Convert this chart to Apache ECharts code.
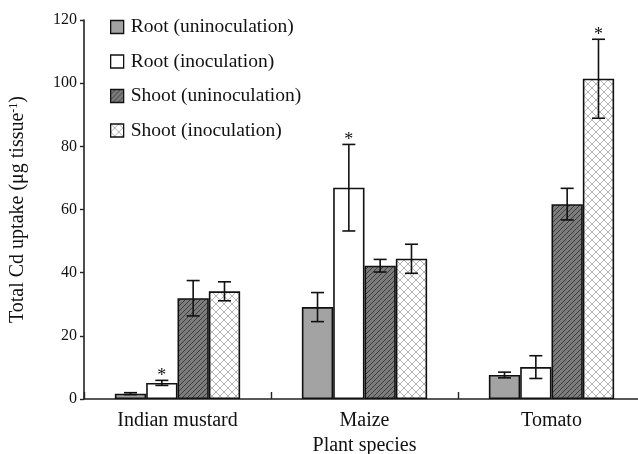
<!DOCTYPE html>
<html>
<head>
<meta charset="utf-8">
<script src="https://cdn.jsdelivr.net/npm/echarts@6/dist/echarts.min.js"></script>
<style>
html,body{margin:0;padding:0;background:#fff;}
#c{width:638px;height:454px;}
</style>
</head>
<body>
<div id="c"></div>
<script>
const categories = ['Indian mustard', 'Maize', 'Tomato'];
const seriesNames = ['Root (uninoculation)', 'Root (inoculation)', 'Shoot (uninoculation)', 'Shoot (inoculation)'];
const rootUn = [1.7, 29.1, 7.6];
const rootUnErr = [0.3, 4.6, 0.9];
const rootIn = [5.1, 66.9, 10.1];
const rootInErr = [0.8, 13.7, 3.6];
const shootUn = [31.9, 42.2, 61.7];
const shootUnErr = [5.6, 2.0, 5.0];
const shootIn = [34.1, 44.4, 101.4];
const shootInErr = [3.0, 4.6, 12.5];
const rootUnSig = [0, 0, 0];
const rootInSig = [1, 1, 0];
const shootUnSig = [0, 0, 0];
const shootInSig = [0, 0, 1];
const yTicks = [0, 20, 40, 60, 80, 100, 120];

const FONT = '"Liberation Serif", "DejaVu Serif", serif';

function makePattern(bg, lineColor, spacing, cross, lw) {
  const size = spacing;
  const cv = document.createElement('canvas');
  cv.width = size; cv.height = size;
  const ctx = cv.getContext('2d');
  ctx.fillStyle = bg; ctx.fillRect(0, 0, size, size);
  ctx.strokeStyle = lineColor; ctx.lineWidth = lw;
  ctx.beginPath();
  ctx.moveTo(-1, size + 1); ctx.lineTo(size + 1, -1);
  ctx.moveTo(-size - 1, size + 1); ctx.lineTo(1, -1);
  ctx.moveTo(size - 1, 2 * size + 1); ctx.lineTo(2 * size + 1, size - 1);
  if (cross) {
    ctx.moveTo(-1, -1); ctx.lineTo(size + 1, size + 1);
    ctx.moveTo(-size - 1, -1); ctx.lineTo(1, size + 1);
    ctx.moveTo(size - 1, -1); ctx.lineTo(2 * size + 1, size + 1);
  }
  ctx.stroke();
  return { image: cv, repeat: 'repeat' };
}

const hatch = makePattern('#7c7c7c', '#3c3c3c', 5, false, 1);
const cross = makePattern('#ffffff', '#b4b4b4', 8, true, 1);

const fills = ['#a3a3a3', '#ffffff', hatch, cross];
const values = [rootUn, rootIn, shootUn, shootIn];
const errs = [rootUnErr, rootInErr, shootUnErr, shootInErr];
const sigs = [rootUnSig, rootInSig, shootUnSig, shootInSig];

const GAP = 0.33;

const barSeries = seriesNames.map((n, i) => ({
  name: n,
  type: 'bar',
  data: values[i],
  barGap: '0%',
  barCategoryGap: (GAP * 100) + '%',
  itemStyle: { color: fills[i], borderColor: '#111', borderWidth: 1.6 },
  emphasis: { disabled: true }
}));

const errData = [];
for (let s = 0; s < 4; s++) {
  for (let c = 0; c < categories.length; c++) {
    errData.push([c, s, values[s][c], errs[s][c], sigs[s][c]]);
  }
}

const errSeries = {
  type: 'custom',
  name: 'err',
  z: 10,
  silent: true,
  data: errData,
  encode: { x: 0, y: 2 },
  renderItem: function (params, api) {
    const cat = api.value(0), s = api.value(1), v = api.value(2), e = api.value(3), sig = api.value(4);
    const c = api.coord([cat, v]);
    const bandW = api.size([1, 0])[0];
    const barW = bandW * (1 - GAP) / 4;
    const x = c[0] + (s - 1.5) * barW;
    const yT = api.coord([cat, v + e])[1];
    const yB = api.coord([cat, v - e])[1];
    const cap = 6.5;
    const st = { stroke: '#111', lineWidth: 1.6 };
    const children = [
      { type: 'line', shape: { x1: x, y1: yT, x2: x, y2: yB }, style: st },
      { type: 'line', shape: { x1: x - cap, y1: yT, x2: x + cap, y2: yT }, style: st },
      { type: 'line', shape: { x1: x - cap, y1: yB, x2: x + cap, y2: yB }, style: st }
    ];
    if (sig) {
      children.push({
        type: 'text',
        style: { text: '*', x: x, y: yT + 5, align: 'center', verticalAlign: 'bottom',
                 font: '18px ' + FONT, fill: '#111' }
      });
    }
    return { type: 'group', children: children };
  }
};

const chart = echarts.init(document.getElementById('c'), null, { renderer: 'canvas' });
chart.setOption({
  animation: false,
  backgroundColor: '#fff',
  grid: { left: 84, top: 20, right: -7, bottom: 55, containLabel: false, outerBoundsMode: 'none' },
  legend: {
    data: seriesNames,
    orient: 'vertical',
    left: 110,
    top: 17,
    padding: 0,
    itemWidth: 13,
    itemHeight: 13,
    itemGap: 14.5,
    icon: 'rect',
    selectedMode: false,
    textStyle: { fontFamily: FONT, fontSize: 19.5, lineHeight: 20, color: '#111', padding: [0, 0, 0, 2] },
    itemStyle: { borderColor: '#111', borderWidth: 1.3 }
  },
  xAxis: {
    type: 'category',
    data: categories,
    name: 'Plant species',
    nameLocation: 'middle',
    nameGap: 34,
    nameTextStyle: { fontFamily: FONT, fontSize: 20, color: '#111' },
    axisLine: { lineStyle: { color: '#222', width: 1.6 } },
    axisTick: { show: true, inside: true, length: 7, lineStyle: { color: '#222', width: 1.4 } },
    axisLabel: { fontFamily: FONT, fontSize: 20, color: '#111', margin: 12 }
  },
  yAxis: {
    type: 'value',
    min: 0, max: 120, interval: 20,
    name: '{a|Total Cd uptake (μg tissue}{s|-1}{a|)}',
    nameLocation: 'middle',
    nameGap: 56,
    nameRotate: 90,
    nameTextStyle: {
      rich: {
        a: { fontFamily: FONT, fontSize: 20, color: '#111' },
        s: { fontFamily: FONT, fontSize: 12, color: '#111', verticalAlign: 'top', padding: [0, 0, 8, 0] }
      }
    },
    splitLine: { show: false },
    axisLine: { show: true, lineStyle: { color: '#222', width: 1.6 } },
    axisTick: { show: true, inside: false, length: 4, lineStyle: { color: '#222', width: 1.4 } },
    axisLabel: { fontFamily: FONT, fontSize: 16, color: '#111', margin: 7,
                 formatter: v => (yTicks.indexOf(v) >= 0 ? String(v) : '') }
  },
  series: barSeries.concat([errSeries])
});
</script>
</body>
</html>
